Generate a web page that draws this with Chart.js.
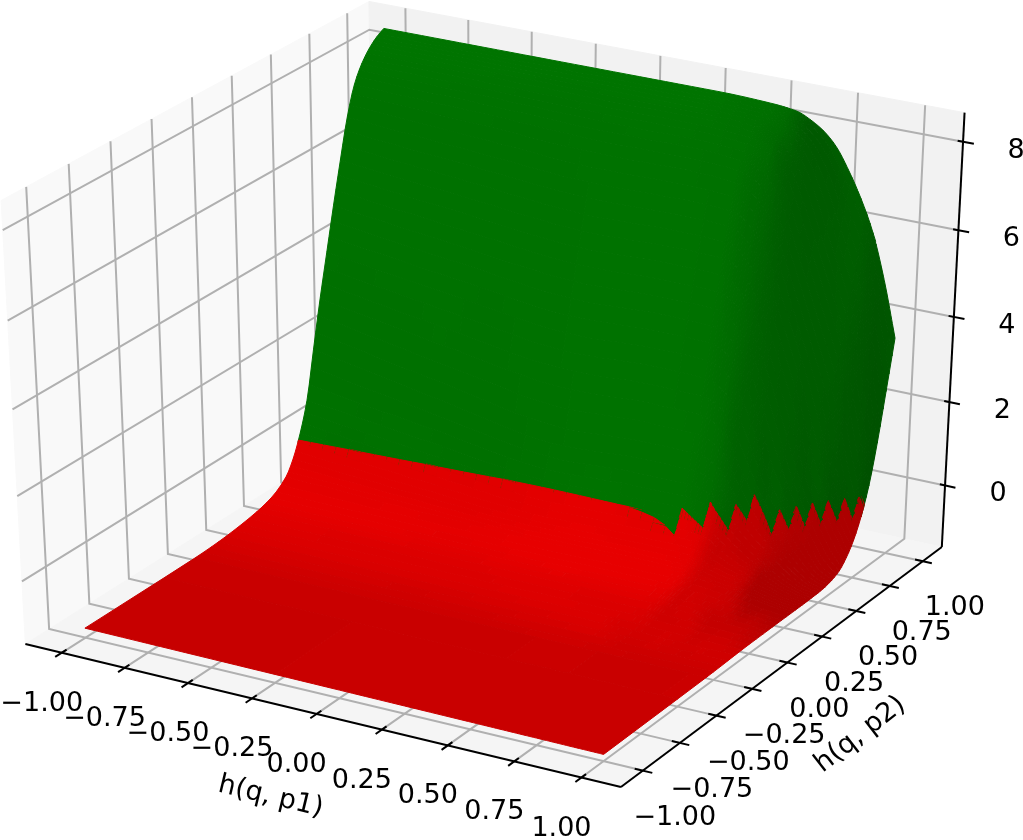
<!DOCTYPE html>
<html><head><meta charset="utf-8">
<style>html,body{margin:0;padding:0;background:#fff}canvas{display:block}</style>
<script src="https://cdn.jsdelivr.net/npm/chart.js@4/dist/chart.umd.min.js"></script>
</head><body><canvas id="c" width="1023" height="840"></canvas>
<script>
// --- data ---
const h1Ticks=[-1,-0.75,-0.5,-0.25,0,0.25,0.5,0.75,1];
const h2Ticks=[-1,-0.75,-0.5,-0.25,0,0.25,0.5,0.75,1];
const zTicks=[0,2,4,6,8];
const h1TickLabels=['−1.00','−0.75','−0.50','−0.25','0.00','0.25','0.50','0.75','1.00'];
const h2TickLabels=['−1.00','−0.75','−0.50','−0.25','0.00','0.25','0.50','0.75','1.00'];
const zTickLabels=['0','2','4','6','8'];
const h1Title='h(q, p1)';
const h2Title='h(q, p2)';
const h1Grid=[-1,-0.5,0,0.3,0.5,0.6,0.65,0.7,0.75,0.8,0.85,0.9,0.95,1];
const h2Grid=[-1,-0.5,-0.3,-0.2,-0.1,0,0.1,0.2,0.3,0.35,0.4,0.45,0.5,0.55,0.6,0.65,0.7,0.75,0.8,0.85,0.9,0.95,1];
const zAtH1m100=[-1.27,-1.27,-1.265,-1.25,-1.22,-1.17,-1.1,-.98,-.7,-.37,.14,.83,1.95,3.05,4.05,5.05,6,6.9,7.55,7.93,8.18,8.35,8.46];
const zAtH1m050=[-1.288,-1.283,-1.276,-1.263,-1.234,-1.185,-1.125,-1.02,-.81,-.57,-.17,.46,1.39,2.55,3.65,4.7,5.72,6.68,7.46,7.9,8.18,8.34,8.46];
const zAtH1p000=[-1.305,-1.295,-1.287,-1.273,-1.245,-1.2,-1.143,-1.055,-.89,-.72,-.40,.14,.92,2.15,3.31,4.41,5.48,6.49,7.35,7.85,8.16,8.335,8.46];
const zAtH1p030=[-1.316,-1.303,-1.293,-1.277,-1.244,-1.195,-1.14,-1.05,-.88,-.7,-.37,.2,1.01,2.22,3.39,4.47,5.53,6.52,7.36,7.86,8.16,8.34,8.46];
const zAtH1p050=[-1.323,-1.308,-1.296,-1.278,-1.24,-1.195,-1.14,-1.05,-.88,-.7,-.37,.2,1.01,2.2,3.36,4.44,5.5,6.47,7.28,7.79,8.09,8.29,8.42];
const zAtH1p060=[-1.326,-1.31,-1.299,-1.282,-1.249,-1.2,-1.143,-1.055,-.89,-.72,-.40,.08,.78,1.88,2.98,4.01,5.01,5.98,6.89,7.6,7.95,8.2,8.35];
const zAtH1p065=[-1.328,-1.311,-1.301,-1.287,-1.256,-1.21,-1.158,-1.08,-.94,-.81,-.57,-.17,.42,1.28,2.39,3.45,4.45,5.43,6.36,7.18,7.74,8.05,8.22];
const zAtH1p070=[-1.33,-1.313,-1.302,-1.291,-1.264,-1.222,-1.173,-1.104,-.987,-.89,-.72,-.42,.01,.68,1.66,2.72,3.7,4.65,5.58,6.47,7.24,7.75,8.03];
const zAtH1p075=[-1.331,-1.314,-1.304,-1.292,-1.268,-1.232,-1.185,-1.128,-1.03,-.95,-.83,-.63,-.31,.19,.83,1.86,2.89,3.83,4.75,5.64,6.5,7.24,7.73];
const zAtH1p080=[-1.333,-1.315,-1.306,-1.295,-1.273,-1.24,-1.205,-1.152,-1.07,-1.01,-.92,-.79,-.56,-.21,.31,.99,2.0,3.01,3.91,4.83,5.7,6.54,7.25];
const zAtH1p085=[-1.335,-1.316,-1.307,-1.297,-1.279,-1.254,-1.226,-1.18,-1.13,-1.1,-1.05,-.97,-.82,-.58,-.21,.31,.96,2.06,3.08,4.01,4.93,5.83,6.67];
const zAtH1p090=[-1.337,-1.318,-1.308,-1.299,-1.281,-1.262,-1.244,-1.22,-1.19,-1.175,-1.15,-1.11,-1.04,-.9,-.64,-.25,.28,1.01,2.1,3.15,4.11,5.09,5.95];
const zAtH1p095=[-1.338,-1.319,-1.309,-1.299,-1.283,-1.267,-1.257,-1.245,-1.235,-1.23,-1.225,-1.215,-1.19,-1.14,-1.03,-.78,-.37,.03,.79,1.86,2.94,3.93,4.92];
const zAtH1p100=[-1.34,-1.32,-1.31,-1.3,-1.284,-1.275,-1.272,-1.27,-1.27,-1.27,-1.27,-1.265,-1.26,-1.24,-1.19,-1.1,-.9,-.6,-.15,.48,1.39,2.5,3.64];
const zColumns=[zAtH1m100,zAtH1m050,zAtH1p000,zAtH1p030,zAtH1p050,zAtH1p060,zAtH1p065,zAtH1p070,zAtH1p075,zAtH1p080,zAtH1p085,zAtH1p090,zAtH1p095,zAtH1p100];
// where the colour changes from red to green, along h1
const boundaryH1=[-1,.3,.4,.45,.491,.494,.586,.589,.666,.669,.712,.715,.792,.795,.833,.836,.872,.875,.91,.913,.946,.949,.981,.984,1];
const boundaryZ=[0,0,-.1,-.22,-.35,.2,-.11,.42,-.13,.39,.04,.58,-.24,.24,-.17,.28,-.15,.31,-.13,.32,-.14,.31,-.16,.29,.1];

// --- view settings ---
const LIM=1.1458, Z_LO=-1.5, Z_HI=8.65;
const FONT='27px "DejaVu Sans"';
function project(x,y,z){
  const sx=x/(2*LIM), sy=y/(2*LIM), sz=(z-Z_LO)/(Z_HI-Z_LO)-.5;
  const X=.866025*sx+.5*sy, Y=-.25*sx+.433013*sy+.866025*sz;
  const W=10-(.433013*sx-.75*sy+.5*sz);
  return {x:X/W,y:Y/W};
}
const datasets=[];
function poly(points,fillColor){
  datasets.push({data:points.map(p=>project(p[0],p[1],p[2])),showLine:true,fill:'shape',backgroundColor:fillColor,
    borderColor:fillColor,borderWidth:1,pointRadius:0,tension:0,clip:false});
}
function line(points,color,width){
  datasets.push({data:points.map(p=>project(p[0],p[1],p[2])),showLine:true,fill:false,
    borderColor:color,borderWidth:width,pointRadius:0,tension:0,clip:false,borderCapStyle:'butt',borderJoinStyle:'miter'});
}
// panes
poly([[-LIM,-LIM,Z_LO],[-LIM,LIM,Z_LO],[-LIM,LIM,Z_HI],[-LIM,-LIM,Z_HI],[-LIM,-LIM,Z_LO]],'#f9f9f9');
poly([[-LIM,LIM,Z_LO],[LIM,LIM,Z_LO],[LIM,LIM,Z_HI],[-LIM,LIM,Z_HI],[-LIM,LIM,Z_LO]],'#f2f2f2');
poly([[-LIM,-LIM,Z_LO],[LIM,-LIM,Z_LO],[LIM,LIM,Z_LO],[-LIM,LIM,Z_LO],[-LIM,-LIM,Z_LO]],'#f5f5f5');
// grid
const GRID='#b0b0b0';
h1Ticks.forEach(t=>line([[t,-LIM,Z_LO],[t,LIM,Z_LO],[t,LIM,Z_HI]],GRID,2));
h2Ticks.forEach(t=>line([[LIM,t,Z_LO],[-LIM,t,Z_LO],[-LIM,t,Z_HI]],GRID,2));
zTicks.forEach(t=>line([[-LIM,-LIM,t],[-LIM,LIM,t],[LIM,LIM,t]],GRID,2));
// axes and ticks
line([[-LIM,-LIM,Z_LO],[LIM,-LIM,Z_LO]],'#000',2);
line([[LIM,-LIM,Z_LO],[LIM,LIM,Z_LO]],'#000',2);
line([[LIM,LIM,Z_LO],[LIM,LIM,Z_HI]],'#000',2);
h1Ticks.forEach(t=>line([[t,-LIM-.04,Z_LO],[t,-LIM+.03,Z_LO]],'#000',2));
h2Ticks.forEach(t=>line([[LIM-.03,t,Z_LO],[LIM+.035,t,Z_LO]],'#000',2));
zTicks.forEach(t=>line([[LIM-.02,LIM,t],[LIM+.04,LIM,t]],'#000',2));

// --- surface: smooth monotone curve through the table, sampled for drawing ---
function slopes(xv,yv){
  const n=xv.length,d=[];
  for(let i=0;i<n-1;i++)d.push((yv[i+1]-yv[i])/(xv[i+1]-xv[i]));
  const m=[d[0]];
  for(let i=1;i<n-1;i++){
    if(d[i-1]*d[i]<=0){m.push(0);continue;}
    const h0=xv[i]-xv[i-1],h1=xv[i+1]-xv[i],w0=2*h1+h0,w1=h1+2*h0;
    m.push((w0+w1)/(w0/d[i-1]+w1/d[i]));
  }
  m.push(d[n-2]);
  return m;
}
function hermite(xv,yv,m,v){
  let i=0;while(i<xv.length-2&&v>xv[i+1])i++;
  const h=xv[i+1]-xv[i],t=(v-xv[i])/h,t2=t*t,t3=t2*t;
  return (2*t3-3*t2+1)*yv[i]+(t3-2*t2+t)*h*m[i]+(-2*t3+3*t2)*yv[i+1]+(t3-t2)*h*m[i+1];
}
const colSlopes=zColumns.map(c=>slopes(h2Grid,c));
function surfZ(x,y){
  const vals=zColumns.map((c,i)=>hermite(h2Grid,c,colSlopes[i],y));
  return hermite(h1Grid,vals,slopes(h1Grid,vals),x);
}
const L=[-.6667,-.6667,.3333];
const H=.03;
function shadeAt(x,y){
  const x0=Math.max(x-H,-1),x1=Math.min(x+H,1),y0=Math.max(y-H,-1),y1=Math.min(y+H,1);
  const zx=(surfZ(x1,y)-surfZ(x0,y))/(x1-x0),zy=(surfZ(x,y1)-surfZ(x,y0))/(y1-y0);
  return ((-zx)*L[0]+(-zy)*L[1]+L[2])/Math.hypot(zx,zy,1);
}
function surfColor(x,y,red){
  let s=shadeAt(x,y);
  if(s<.64)s=.64-(.64-s)*.8;
  s=Math.min(s,.74);
  const out=.3+.7*(Math.max(s,red?.09:-.08)+1)/2;
  const lv=Math.round(out*128);
  return red?`rgb(${Math.round(lv*255/128)},0,0)`:`rgb(0,${lv},0)`;
}
function boundaryAt(x){
  let i=0;while(i<boundaryH1.length-2&&x>boundaryH1[i+1])i++;
  const u=(x-boundaryH1[i])/(boundaryH1[i+1]-boundaryH1[i]);
  return boundaryZ[i]*(1-u)+boundaryZ[i+1]*u;
}
const sampleX=[];
for(let k=-20;k<=40;k++)sampleX.push(k/20);
for(let k=40;k<=80;k++)sampleX.push(k/80);
const rx=[...new Set([...h1Grid,...boundaryH1,...sampleX.filter(v=>v<=1)])].sort((a,b)=>a-b);
const ry=[];
h2Grid.forEach((y,j)=>{
  ry.push(y);
  if(j+1<h2Grid.length&&y>=-.3){const n=y>=.1?3:2;for(let k=1;k<n;k++)ry.push(y+(h2Grid[j+1]-y)*k/n);}
});
const pc=new Map();
const P=(x,y)=>{const key=x+'_'+y;if(!pc.has(key))pc.set(key,[x,y,surfZ(x,y)]);return pc.get(key);};
// y on each rib where the surface reaches the colour boundary
const bY=rx.map(x=>{
  const zb=boundaryAt(x);
  for(let k=0;k+1<ry.length;k++){
    if(ry[k]<0)continue;
    const a=P(x,ry[k])[2],b=P(x,ry[k+1])[2];
    if(a<=zb&&b>=zb)return ry[k]+(zb-a)/(b-a)*(ry[k+1]-ry[k]);
  }
  return 1;
});
function strip(i0,i1,y0,y1,color){
  const pts=[];
  for(let i=i0;i<=i1;i++)pts.push(P(rx[i],y0));
  for(let i=i1;i>=i0;i--)pts.push(P(rx[i],y1));
  pts.push(pts[0]);
  poly(pts,color);
}
for(let j=ry.length-2;j>=0;j--){
  const y0=ry[j],y1=ry[j+1],ym=(y0+y1)/2;
  let start=0,cur=null;
  const flush=(end)=>{if(cur){strip(start,end,y0,y1,cur);}cur=null;};
  for(let i=0;i<rx.length-1;i++){
    const xm=(rx[i]+rx[i+1])/2,bL=bY[i],bR=bY[i+1];
    const allRed=y1<=Math.min(bL,bR),allGreen=y0>=Math.max(bL,bR);
    if(allRed||allGreen){
      const col=surfColor(xm,ym,allRed);
      if(col!==cur){flush(i);start=i;cur=col;}
    }else{
      flush(i);
      poly([P(rx[i],y0),P(rx[i+1],y0),P(rx[i+1],y1),P(rx[i],y1),P(rx[i],y0)],surfColor(xm,ym,false));
      const tL=Math.max(y0,Math.min(y1,bL)),tR=Math.max(y0,Math.min(y1,bR));
      poly([P(rx[i],y0),P(rx[i+1],y0),P(rx[i+1],tR),P(rx[i],tL),P(rx[i],y0)],surfColor(xm,ym,true));
    }
  }
  flush(rx.length-1);
}
const total=datasets.length;
datasets.forEach((d,i)=>{d.order=total-i;});

// --- text ---
const textPlugin={id:'axisText',afterDatasetsDraw(chart){
  const c=chart.ctx,sx=chart.scales.x,sy=chart.scales.y;
  const px=(x,y,z)=>{const p=project(x,y,z);return [sx.getPixelForValue(p.x),sy.getPixelForValue(p.y)];};
  c.save();c.fillStyle='#000';c.font=FONT;c.textAlign='center';c.textBaseline='middle';
  h1Ticks.forEach((t,i)=>{const q=px(t,-LIM,Z_LO);c.fillText(h1TickLabels[i],q[0]-20,q[1]+51);});
  h2Ticks.forEach((t,i)=>{const q=px(LIM,t,Z_LO);c.fillText(h2TickLabels[i],q[0]+32,q[1]+47);});
  zTicks.forEach((t,i)=>{const q=px(LIM,LIM,t);c.fillText(zTickLabels[i],q[0]+53,q[1]+9);});
  let q=px(0,-LIM,Z_LO);
  c.save();c.translate(q[0]-46,q[1]+83);c.rotate(13.5*Math.PI/180);c.fillText(h1Title,0,0);c.restore();
  q=px(LIM,0,Z_LO);
  c.save();c.translate(q[0]+73,q[1]+72);c.rotate(-38*Math.PI/180);c.fillText(h2Title,0,0);c.restore();
  c.restore();
}};
new Chart(document.getElementById('c'),{
  type:'scatter',
  data:{datasets},
  options:{responsive:false,animation:false,events:[],
    layout:{padding:0},
    plugins:{legend:{display:false},tooltip:{enabled:false}},
    scales:{
      x:{type:'linear',display:false,min:-.07137,max:.07743},
      y:{type:'linear',display:false,min:-.09066,max:.07518}
    }},
  plugins:[textPlugin]
});
</script></body></html>
